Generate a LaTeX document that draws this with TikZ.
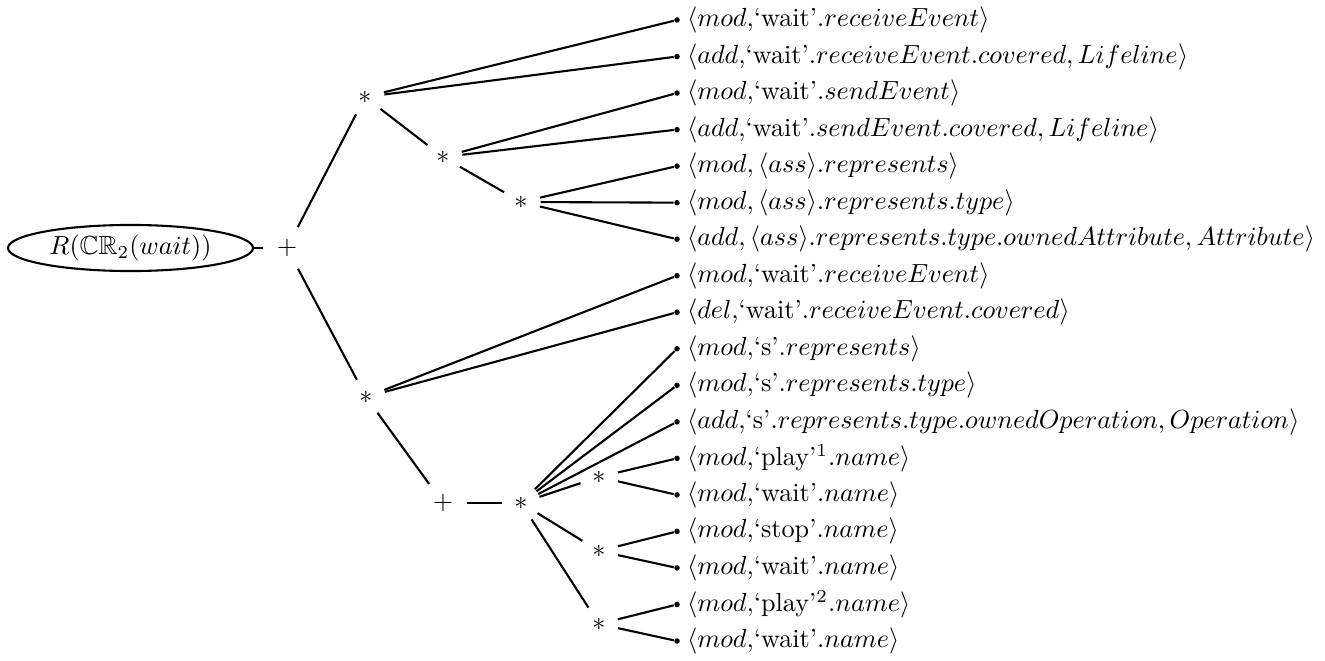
\documentclass[tikz,border=0pt]{standalone}
\usepackage{amsmath,amssymb}
\usetikzlibrary{shapes.geometric}
\begin{document}
\begin{tikzpicture}[x=0.382pt,y=-0.382pt,
  op/.style={circle,inner sep=0pt,minimum size=14.5pt},
  opplus/.style={circle,inner sep=0pt,minimum size=17.6pt},
  dot/.style={circle,fill=black,inner sep=0pt,minimum size=2.1pt},
  lbl/.style={anchor=west,inner sep=2.4pt},
  edge/.style={line width=0.8pt}]
\useasboundingbox (0,0) rectangle (1325,660);
\node[ellipse,draw,line width=0.8pt,minimum width=93.6pt,minimum height=17.6pt,inner sep=0pt] (root) at (130.5,248) {$R(\mathbb{CR}_2(wait))$};
\node[opplus] (p0) at (287,248) {$+$};
\node[op] (a1) at (365,97) {$*$};
\node[op] (a2) at (443,157) {$*$};
\node[op] (a3) at (521,202) {$*$};
\node[op] (b1) at (366,397) {$*$};
\node[opplus] (p1) at (443,503) {$+$};
\node[op] (b2) at (521,503) {$*$};
\node[op] (c1) at (599,477) {$*$};
\node[op] (c2) at (599,551) {$*$};
\node[op] (c3) at (599,624) {$*$};
% leaves
\foreach \i in {0,...,17} {
  \node[dot] (l\i) at (677,{20+36.53*\i}) {};
}
\node[lbl] at (l0.east) {$\langle mod,$`wait'$.receiveEvent\rangle$};
\node[lbl] at (l1.east) {$\langle add,$`wait'$.receiveEvent.covered, Lifeline\rangle$};
\node[lbl] at (l2.east) {$\langle mod,$`wait'$.sendEvent\rangle$};
\node[lbl] at (l3.east) {$\langle add,$`wait'$.sendEvent.covered, Lifeline\rangle$};
\node[lbl] at (l4.east) {$\langle mod, \langle ass\rangle.represents\rangle$};
\node[lbl] at (l5.east) {$\langle mod, \langle ass\rangle.represents.type\rangle$};
\node[lbl] at (l6.east) {$\langle add, \langle ass\rangle.represents.type.ownedAttribute, Attribute\rangle$};
\node[lbl] at (l7.east) {$\langle mod,$`wait'$.receiveEvent\rangle$};
\node[lbl] at (l8.east) {$\langle del,$`wait'$.receiveEvent.covered\rangle$};
\node[lbl] at (l9.east) {$\langle mod,$`s'$.represents\rangle$};
\node[lbl] at (l10.east) {$\langle mod,$`s'$.represents.type\rangle$};
\node[lbl] at (l11.east) {$\langle add,$`s'$.represents.type.ownedOperation, Operation\rangle$};
\node[lbl] at (l12.east) {$\langle mod,$`play'$^1.name\rangle$};
\node[lbl] at (l13.east) {$\langle mod,$`wait'$.name\rangle$};
\node[lbl] at (l14.east) {$\langle mod,$`stop'$.name\rangle$};
\node[lbl] at (l15.east) {$\langle mod,$`wait'$.name\rangle$};
\node[lbl] at (l16.east) {$\langle mod,$`play'$^2.name\rangle$};
\node[lbl] at (l17.east) {$\langle mod,$`wait'$.name\rangle$};
% connectors
\draw[edge] (root) -- (p0);
\draw[edge] (p0) -- (a1);
\draw[edge] (p0) -- (b1);
\draw[edge] (a1) -- (l0);
\draw[edge] (a1) -- (l1);
\draw[edge] (a1) -- (a2);
\draw[edge] (a2) -- (l2);
\draw[edge] (a2) -- (l3);
\draw[edge] (a2) -- (a3);
\draw[edge] (a3) -- (l4);
\draw[edge] (a3) -- (l5);
\draw[edge] (a3) -- (l6);
\draw[edge] (b1) -- (l7);
\draw[edge] (b1) -- (l8);
\draw[edge] (b1) -- (p1);
\draw[edge] (p1) -- (b2);
\draw[edge] (b2) -- (l9);
\draw[edge] (b2) -- (l10);
\draw[edge] (b2) -- (l11);
\draw[edge] (b2) -- (c1);
\draw[edge] (b2) -- (c2);
\draw[edge] (b2) -- (c3);
\draw[edge] (c1) -- (l12);
\draw[edge] (c1) -- (l13);
\draw[edge] (c2) -- (l14);
\draw[edge] (c2) -- (l15);
\draw[edge] (c3) -- (l16);
\draw[edge] (c3) -- (l17);
\end{tikzpicture}
\end{document}
